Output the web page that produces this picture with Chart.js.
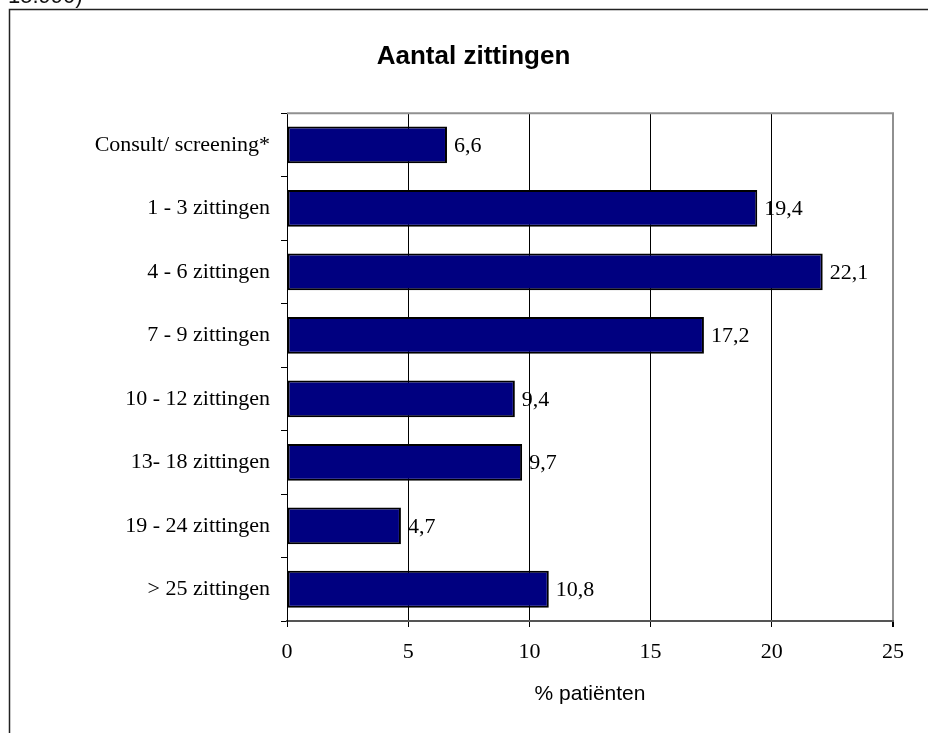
<!DOCTYPE html>
<html>
<head>
<meta charset="utf-8">
<script src="https://cdn.jsdelivr.net/npm/chart.js@4.4.0/dist/chart.umd.min.js"></script>
<style>
  html, body { margin: 0; padding: 0; background: #fff; overflow: hidden; }
  #wrap { position: relative; width: 930px; height: 733px; }
  #cut { position: absolute; left: 8px; top: -17px; font: 22px "Liberation Sans", sans-serif; color: #111; }
</style>
</head>
<body>
<div id="wrap">
  <canvas id="chart" width="930" height="733"></canvas>
  <div id="cut">15.990)</div>
</div>
<script>
const categories = ['Consult/ screening*', '1 - 3 zittingen', '4 - 6 zittingen', '7 - 9 zittingen',
    '10 - 12 zittingen', '13- 18 zittingen', '19 - 24 zittingen', '> 25 zittingen'];
const percentages = [6.6, 19.4, 22.1, 17.2, 9.4, 9.7, 4.7, 10.8];
const xTicks = [0, 5, 10, 15, 20, 25];

const serif = '"Liberation Serif", "Times New Roman", serif';
const sans = '"Liberation Sans", Arial, sans-serif';

// outer frame (only top and left edges are in view) and the grey top edge of the plot
const framePlugin = {
    id: 'frame',
    beforeDraw(chart) {
        const ctx = chart.ctx;
        ctx.save();
        ctx.strokeStyle = '#222';
        ctx.lineWidth = 1.5;
        ctx.beginPath();
        ctx.moveTo(9.5, 740);
        ctx.lineTo(9.5, 9.5);
        ctx.lineTo(928, 9.5);
        ctx.stroke();
        ctx.restore();
    },
    afterDraw(chart) {
        const { ctx, chartArea } = chart;
        ctx.save();
        ctx.strokeStyle = '#909090';
        ctx.lineWidth = 2;
        ctx.beginPath();
        ctx.moveTo(chartArea.left, chartArea.top);
        ctx.lineTo(chartArea.right + 1, chartArea.top);
        ctx.stroke();
        ctx.restore();
    }
};

const valueLabels = {
    id: 'valueLabels',
    afterDatasetsDraw(chart) {
        const ctx = chart.ctx;
        ctx.save();
        ctx.font = '22px ' + serif;
        ctx.fillStyle = '#000';
        ctx.textBaseline = 'middle';
        chart.getDatasetMeta(0).data.forEach((bar, i) => {
            ctx.fillText(percentages[i].toFixed(1).replace('.', ','), bar.x + 7, bar.y + 1);
        });
        ctx.restore();
    }
};

new Chart(document.getElementById('chart').getContext('2d'), {
    type: 'bar',
    data: {
        labels: categories,
        datasets: [{
            data: percentages,
            backgroundColor: '#000080',
            borderColor: '#000',
            borderWidth: 2,
            borderSkipped: false,
            barPercentage: 0.58,
            categoryPercentage: 1,
        }],
    },
    options: {
        indexAxis: 'y',
        responsive: false,
        animation: false,
        layout: { padding: { left: 54, right: 37, top: 0, bottom: 0 } },
        plugins: {
            legend: { display: false },
            tooltip: { enabled: false },
            title: {
                display: true,
                text: 'Aantal zittingen',
                color: '#000',
                font: { family: sans, size: 26, weight: 'bold' },
                padding: { top: 41, bottom: 41 },
            }
        },
        scales: {
            x: {
                min: 0,
                max: 25,
                afterBuildTicks: (scale) => { scale.ticks = xTicks.map(v => ({ value: v })); },
                afterFit: (scale) => { scale.height = 112; },
                grid: {
                    color: (c) => c.tick && c.tick.value === 25 ? '#909090' : '#000',
                    lineWidth: (c) => c.tick && c.tick.value === 25 ? 2 : 1,
                    tickColor: '#000',
                    tickLength: 6,
                },
                border: { color: '#555', width: 2 },
                ticks: {
                    color: '#000',
                    padding: 12,
                    font: { family: serif, size: 22 },
                },
                title: {
                    display: true,
                    text: '% patiënten',
                    color: '#000',
                    font: { family: sans, size: 21 },
                    padding: { top: 0, bottom: 26 },
                }
            },
            y: {
                afterFit: (scale) => { scale.width = 233; },
                grid: {
                    offset: true,
                    drawOnChartArea: false,
                    color: '#000',
                    tickLength: 6,
                },
                border: { color: '#000', width: 1 },
                ticks: {
                    color: '#000',
                    padding: 11,
                    font: { family: serif, size: 22 },
                }
            }
        }
    },
    plugins: [framePlugin, valueLabels]
});
</script>
</body>
</html>
